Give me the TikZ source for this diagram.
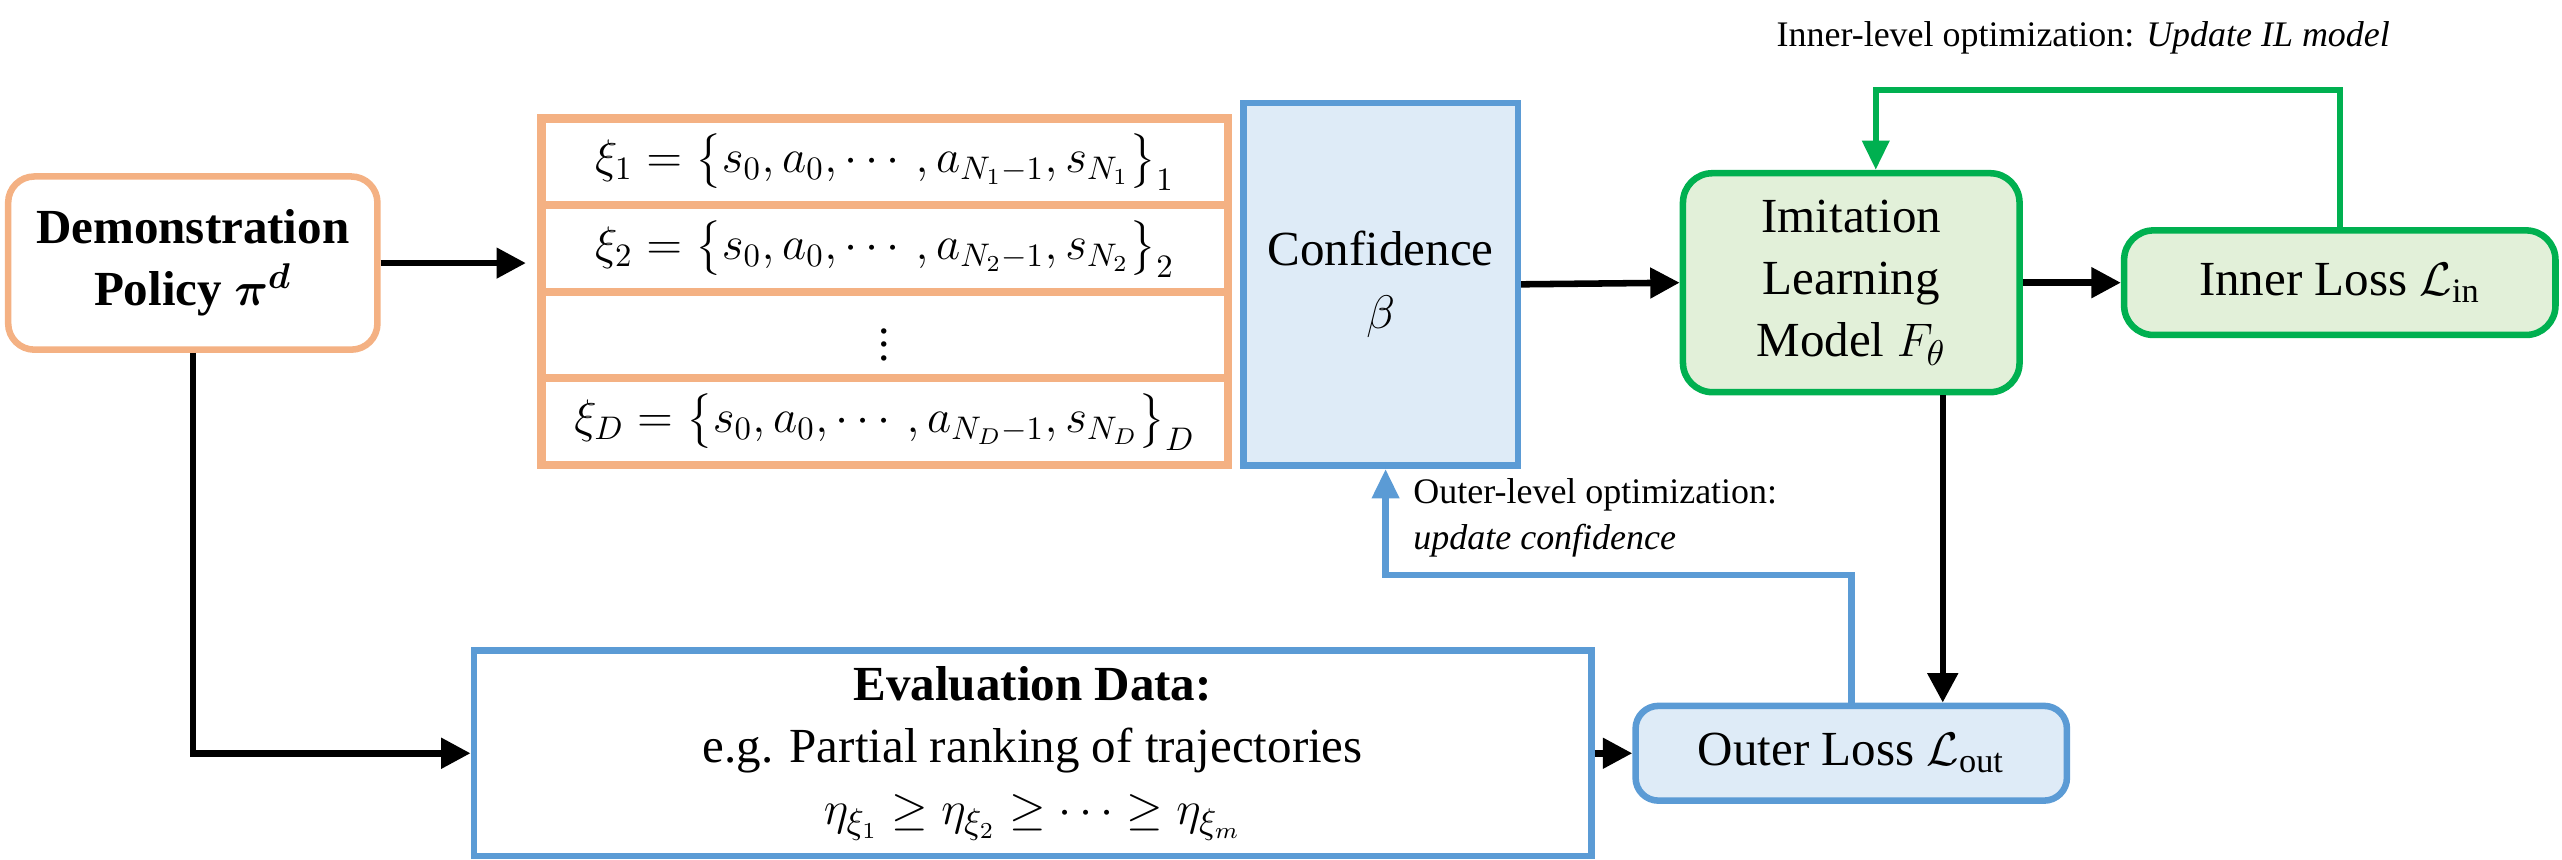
\documentclass[tikz,border=0pt]{standalone}
\usepackage{amsmath,amssymb}
\usepackage{fontspec}
\setmainfont{Liberation Serif}
\usetikzlibrary{matrix,arrows.meta,positioning}
\definecolor{demoorange}{HTML}{F4B183}
\definecolor{confblue}{HTML}{5B9BD5}
\definecolor{conffill}{HTML}{DEEBF7}
\definecolor{ilgreen}{HTML}{00B050}
\definecolor{ilfill}{HTML}{E2F0D9}
\tikzset{
box/.style={draw,line width=2pt,align=center,font=\fontsize{15}{19}\selectfont,inner sep=2pt},
demo/.style={box,draw=demoorange,rounded corners=8pt,minimum width=113pt,minimum height=53pt},
blue box/.style={box,draw=confblue,fill=conffill},
green box/.style={box,draw=ilgreen,fill=ilfill,rounded corners=9pt},
traj/.style={
  matrix of nodes,
  row sep=-2.5pt,
  nodes={draw=demoorange,line width=2.5pt,minimum width=210pt,minimum height=26.5pt,
    inner sep=1pt,anchor=center,font=\fontsize{14}{16}\selectfont},
},
flow/.style={line width=2pt,-{Triangle[length=9pt,width=9pt]}},
loop/.style={line width=2pt,-{Triangle[length=9pt,width=8pt]}},
note/.style={font=\fontsize{11}{14}\selectfont,align=left}
}
\begin{document}
\begin{tikzpicture}[x=0.5pt,y=-0.5pt]
\useasboundingbox (0,0) rectangle (1568,526);
% left source
\node[demo] (demo) at (118,161) {\textbf{Demonstration}\\\textbf{Policy $\boldsymbol{\pi^d}$}};
% trajectory table
\matrix (trj) [traj,anchor=north east] at (761,63) {
  $\xi_1=\bigl\{s_0,a_0,\cdots,a_{N_1-1},s_{N_1}\bigr\}_1$ \\
  $\xi_2=\bigl\{s_0,a_0,\cdots,a_{N_2-1},s_{N_2}\bigr\}_2$ \\
  $\vdots$ \\
  $\xi_D=\bigl\{s_0,a_0,\cdots,a_{N_D-1},s_{N_D}\bigr\}_D$ \\
};
\node[blue box,minimum width=84pt,minimum height=111pt] (conf) at (845,174) {Confidence\\$\beta$};
% learner and losses
\node[green box,minimum width=103pt,minimum height=67pt] (il) at (1133,173) {Imitation\\Learning\\Model $F_\theta$};
\node[green box,minimum width=132pt,minimum height=32pt] (inl) at (1432,173) {Inner Loss $\mathcal{L}_{\mathrm{in}}$};
\node[blue box,rounded corners=7pt,minimum width=132pt,minimum height=29pt] (outl) at (1133,461) {Outer Loss $\mathcal{L}_{\mathrm{out}}$};
\node[blue box,fill=white,minimum width=342pt,minimum height=63pt] (eval) at (632,461)
  {\textbf{Evaluation Data:}\\e.g. Partial ranking of trajectories\\$\eta_{\xi_1}\geq\eta_{\xi_2}\geq\cdots\geq\eta_{\xi_m}$};
% the arrows
\draw[flow] (demo.east) -- (demo.east -| trj.west);
\draw[flow] (conf.east) -- (il.west);
\draw[flow] (il.east) -- (inl.west);
\draw[flow] (il.south -| outl.north east) ++(-78,0) coordinate (ilb) -- (ilb |- outl.north);
\draw[flow] (eval.east) -- (outl.west);
\draw[flow] (demo.south) |- (eval.west);
% feedback loops
\coordinate (gtop) at (1148,55);
\draw[loop,ilgreen] (inl.north) |- (gtop) -- (gtop |- il.north);
\coordinate (btop) at (848,352);
\draw[loop,confblue] (outl.north) |- (btop) -- (btop |- conf.south);
\node[note,anchor=south] (inlab) at (1275,40) {Inner-level optimization: \textit{Update IL model}};
\node[note,anchor=north west] (outlab) at (858,286) {Outer-level optimization:\\\textit{update confidence}};
\end{tikzpicture}
\end{document}
